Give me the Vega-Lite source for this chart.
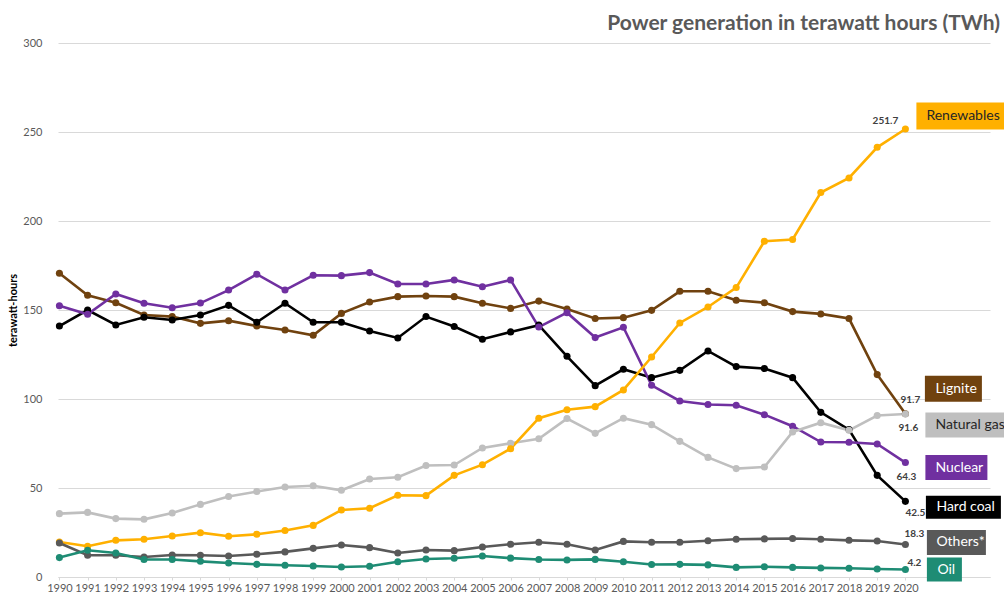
{
  "$schema": "https://vega.github.io/schema/vega-lite/v6.json",
  "width": 932,
  "height": 534,
  "autosize": "none",
  "padding": {"left": 58, "top": 43, "right": 14, "bottom": 15},
  "background": "#ffffff",
  "title": {
    "text": "Power generation in terawatt hours (TWh)",
    "anchor": "end",
    "frame": "group",
    "dx": 10,
    "offset": -14,
    "baseline": "alphabetic",
    "font": "Lato",
    "fontSize": 21,
    "fontWeight": "bold",
    "color": "#595959"
  },
  "config": {
    "view": {"stroke": null},
    "text": {"font": "Lato"}
  },
  "data": {
    "values": [
      {"year": 1990, "Lignite": 170.6, "Hard coal": 141.0, "Nuclear": 152.4, "Natural gas": 35.6, "Renewables": 19.7, "Others*": 19.1, "Oil": 10.9},
      {"year": 1991, "Lignite": 158.3, "Hard coal": 150.0, "Nuclear": 147.6, "Natural gas": 36.3, "Renewables": 17.3, "Others*": 12.2, "Oil": 15.0},
      {"year": 1992, "Lignite": 154.1, "Hard coal": 141.6, "Nuclear": 159.0, "Natural gas": 32.8, "Renewables": 20.6, "Others*": 12.2, "Oil": 13.5},
      {"year": 1993, "Lignite": 147.2, "Hard coal": 145.9, "Nuclear": 153.8, "Natural gas": 32.4, "Renewables": 21.2, "Others*": 11.2, "Oil": 9.8},
      {"year": 1994, "Lignite": 146.3, "Hard coal": 144.4, "Nuclear": 151.3, "Natural gas": 36.0, "Renewables": 23.0, "Others*": 12.4, "Oil": 9.8},
      {"year": 1995, "Lignite": 142.5, "Hard coal": 147.2, "Nuclear": 153.9, "Natural gas": 40.8, "Renewables": 24.9, "Others*": 12.2, "Oil": 8.8},
      {"year": 1996, "Lignite": 144.0, "Hard coal": 152.6, "Nuclear": 161.2, "Natural gas": 45.2, "Renewables": 22.9, "Others*": 11.8, "Oil": 7.9},
      {"year": 1997, "Lignite": 141.0, "Hard coal": 143.1, "Nuclear": 170.1, "Natural gas": 48.0, "Renewables": 24.0, "Others*": 12.8, "Oil": 7.1},
      {"year": 1998, "Lignite": 138.8, "Hard coal": 153.8, "Nuclear": 161.2, "Natural gas": 50.6, "Renewables": 26.1, "Others*": 14.1, "Oil": 6.6},
      {"year": 1999, "Lignite": 135.8, "Hard coal": 143.1, "Nuclear": 169.5, "Natural gas": 51.3, "Renewables": 29.0, "Others*": 16.1, "Oil": 6.2},
      {"year": 2000, "Lignite": 148.1, "Hard coal": 143.1, "Nuclear": 169.3, "Natural gas": 48.7, "Renewables": 37.6, "Others*": 18.0, "Oil": 5.6},
      {"year": 2001, "Lignite": 154.5, "Hard coal": 138.2, "Nuclear": 171.0, "Natural gas": 55.1, "Renewables": 38.6, "Others*": 16.5, "Oil": 6.0},
      {"year": 2002, "Lignite": 157.5, "Hard coal": 134.3, "Nuclear": 164.6, "Natural gas": 56.0, "Renewables": 45.9, "Others*": 13.5, "Oil": 8.6},
      {"year": 2003, "Lignite": 157.9, "Hard coal": 146.3, "Nuclear": 164.6, "Natural gas": 62.6, "Renewables": 45.7, "Others*": 15.2, "Oil": 10.1},
      {"year": 2004, "Lignite": 157.5, "Hard coal": 140.7, "Nuclear": 166.9, "Natural gas": 62.9, "Renewables": 57.1, "Others*": 14.8, "Oil": 10.5},
      {"year": 2005, "Lignite": 153.8, "Hard coal": 133.6, "Nuclear": 163.1, "Natural gas": 72.5, "Renewables": 63.1, "Others*": 16.9, "Oil": 11.8},
      {"year": 2006, "Lignite": 150.9, "Hard coal": 137.7, "Nuclear": 166.9, "Natural gas": 75.1, "Renewables": 72.1, "Others*": 18.4, "Oil": 10.6},
      {"year": 2007, "Lignite": 155.0, "Hard coal": 141.5, "Nuclear": 140.4, "Natural gas": 77.7, "Renewables": 89.2, "Others*": 19.5, "Oil": 9.8},
      {"year": 2008, "Lignite": 150.6, "Hard coal": 124.0, "Nuclear": 148.5, "Natural gas": 89.0, "Renewables": 94.0, "Others*": 18.4, "Oil": 9.6},
      {"year": 2009, "Lignite": 145.2, "Hard coal": 107.5, "Nuclear": 134.5, "Natural gas": 80.7, "Renewables": 95.7, "Others*": 15.2, "Oil": 9.9},
      {"year": 2010, "Lignite": 145.7, "Hard coal": 116.7, "Nuclear": 140.3, "Natural gas": 89.2, "Renewables": 105.1, "Others*": 20.0, "Oil": 8.6},
      {"year": 2011, "Lignite": 149.8, "Hard coal": 112.0, "Nuclear": 107.7, "Natural gas": 85.6, "Renewables": 123.6, "Others*": 19.5, "Oil": 7.0},
      {"year": 2012, "Lignite": 160.5, "Hard coal": 116.1, "Nuclear": 98.9, "Natural gas": 76.2, "Renewables": 142.7, "Others*": 19.5, "Oil": 7.1},
      {"year": 2013, "Lignite": 160.5, "Hard coal": 127.0, "Nuclear": 96.9, "Natural gas": 67.2, "Renewables": 151.7, "Others*": 20.4, "Oil": 6.8},
      {"year": 2014, "Lignite": 155.5, "Hard coal": 118.2, "Nuclear": 96.5, "Natural gas": 60.9, "Renewables": 162.6, "Others*": 21.2, "Oil": 5.4},
      {"year": 2015, "Lignite": 154.1, "Hard coal": 117.1, "Nuclear": 91.2, "Natural gas": 61.8, "Renewables": 188.6, "Others*": 21.4, "Oil": 5.8},
      {"year": 2016, "Lignite": 149.1, "Hard coal": 112.0, "Nuclear": 84.7, "Natural gas": 81.5, "Renewables": 189.6, "Others*": 21.6, "Oil": 5.4},
      {"year": 2017, "Lignite": 147.8, "Hard coal": 92.5, "Nuclear": 75.8, "Natural gas": 86.7, "Renewables": 216.0, "Others*": 21.2, "Oil": 5.1},
      {"year": 2018, "Lignite": 145.2, "Hard coal": 82.8, "Nuclear": 75.7, "Natural gas": 82.4, "Renewables": 224.2, "Others*": 20.6, "Oil": 4.9},
      {"year": 2019, "Lignite": 113.7, "Hard coal": 57.1, "Nuclear": 74.7, "Natural gas": 90.7, "Renewables": 241.4, "Others*": 20.2, "Oil": 4.5},
      {"year": 2020, "Lignite": 91.7, "Hard coal": 42.5, "Nuclear": 64.3, "Natural gas": 91.6, "Renewables": 251.7, "Others*": 18.3, "Oil": 4.2}
    ]
  },
  "transform": [
    {"fold": ["Lignite", "Hard coal", "Nuclear", "Natural gas", "Renewables", "Others*", "Oil"], "as": ["source", "twh"]}
  ],
  "encoding": {
    "x": {
      "field": "year", "type": "quantitative",
      "scale": {"domain": [1989.95, 2023], "nice": false, "zero": false},
      "axis": {
        "values": [1990, 1991, 1992, 1993, 1994, 1995, 1996, 1997, 1998, 1999, 2000, 2001, 2002, 2003, 2004, 2005, 2006, 2007, 2008, 2009, 2010, 2011, 2012, 2013, 2014, 2015, 2016, 2017, 2018, 2019, 2020],
        "format": "d", "title": null, "grid": false,
        "labelFont": "Lato", "labelFontSize": 11, "labelColor": "#595959",
        "labelOverlap": false, "labelFlush": false, "labelPadding": 2,
        "domainColor": "#D9D9D9", "tickColor": "#D9D9D9", "tickSize": 3
      }
    },
    "y": {
      "field": "twh", "type": "quantitative",
      "scale": {"domain": [0, 300], "nice": false},
      "axis": {
        "values": [0, 50, 100, 150, 200, 250, 300],
        "title": "terawatt-hours", "titleFont": "Lato", "titleFontSize": 11, "titleFontWeight": "bold", "titleColor": "#000000", "titlePadding": 4,
        "grid": true, "gridColor": "#D9D9D9", "domain": false, "ticks": false,
        "labelFont": "Lato", "labelFontSize": 11, "labelColor": "#595959", "labelPadding": 16
      }
    }
  },
  "layer": [
    {
      "mark": {"type": "line", "strokeWidth": 2.6, "point": {"filled": true, "size": 50, "opacity": 1}},
      "encoding": {
        "color": {
          "field": "source", "type": "nominal", "legend": null,
          "scale": {
            "domain": ["Lignite", "Hard coal", "Nuclear", "Natural gas", "Renewables", "Others*", "Oil"],
            "range": ["#70420F", "#000000", "#7030A0", "#BFBFBF", "#FFB000", "#595959", "#1E8C74"]
          }
        }
      }
    },
    {
      "transform": [{"filter": "datum.year === 2020 && datum.source === 'Renewables'"}],
      "mark": {"type": "rect", "width": 96, "height": 27, "xOffset": 59, "yOffset": -13, "color": "#FFB000"}
    },
    {
      "transform": [{"filter": "datum.year === 2020 && datum.source === 'Lignite'"}],
      "mark": {"type": "rect", "width": 57, "height": 26, "xOffset": 48, "yOffset": -25, "color": "#70420F"}
    },
    {
      "transform": [{"filter": "datum.year === 2020 && datum.source === 'Natural gas'"}],
      "mark": {"type": "rect", "width": 88, "height": 25, "xOffset": 64, "yOffset": 11, "color": "#BFBFBF"}
    },
    {
      "transform": [{"filter": "datum.year === 2020 && datum.source === 'Nuclear'"}],
      "mark": {"type": "rect", "width": 62, "height": 25, "xOffset": 51, "yOffset": 5, "color": "#7030A0"}
    },
    {
      "transform": [{"filter": "datum.year === 2020 && datum.source === 'Hard coal'"}],
      "mark": {"type": "rect", "width": 75, "height": 23, "xOffset": 58, "yOffset": 6, "color": "#000000"}
    },
    {
      "transform": [{"filter": "datum.year === 2020 && datum.source === 'Others*'"}],
      "mark": {"type": "rect", "width": 59, "height": 25, "xOffset": 51, "yOffset": -2, "color": "#595959"}
    },
    {
      "transform": [{"filter": "datum.year === 2020 && datum.source === 'Oil'"}],
      "mark": {"type": "rect", "width": 35, "height": 24, "xOffset": 39, "yOffset": 0, "color": "#1E8C74"}
    },
    {
      "transform": [{"filter": "datum.year === 2020 && datum.source === 'Renewables'"}],
      "mark": {"type": "text", "align": "left", "baseline": "middle", "xOffset": 21, "yOffset": -13, "fontSize": 14, "color": "#262626"},
      "encoding": {"text": {"field": "source"}}
    },
    {
      "transform": [{"filter": "datum.year === 2020 && datum.source === 'Lignite'"}],
      "mark": {"type": "text", "align": "left", "baseline": "middle", "xOffset": 30, "yOffset": -25, "fontSize": 14, "color": "#ffffff"},
      "encoding": {"text": {"field": "source"}}
    },
    {
      "transform": [{"filter": "datum.year === 2020 && datum.source === 'Natural gas'"}],
      "mark": {"type": "text", "align": "left", "baseline": "middle", "xOffset": 30, "yOffset": 11, "fontSize": 14, "color": "#262626"},
      "encoding": {"text": {"field": "source"}}
    },
    {
      "transform": [{"filter": "datum.year === 2020 && datum.source === 'Nuclear'"}],
      "mark": {"type": "text", "align": "left", "baseline": "middle", "xOffset": 30, "yOffset": 5, "fontSize": 14, "color": "#ffffff"},
      "encoding": {"text": {"field": "source"}}
    },
    {
      "transform": [{"filter": "datum.year === 2020 && datum.source === 'Hard coal'"}],
      "mark": {"type": "text", "align": "left", "baseline": "middle", "xOffset": 31, "yOffset": 6, "fontSize": 14, "color": "#ffffff"},
      "encoding": {"text": {"field": "source"}}
    },
    {
      "transform": [{"filter": "datum.year === 2020 && datum.source === 'Others*'"}],
      "mark": {"type": "text", "align": "left", "baseline": "middle", "xOffset": 31, "yOffset": -2, "fontSize": 14, "color": "#ffffff"},
      "encoding": {"text": {"field": "source"}}
    },
    {
      "transform": [{"filter": "datum.year === 2020 && datum.source === 'Oil'"}],
      "mark": {"type": "text", "align": "left", "baseline": "middle", "xOffset": 32, "yOffset": 0, "fontSize": 14, "color": "#ffffff"},
      "encoding": {"text": {"field": "source"}}
    },
    {
      "transform": [{"filter": "datum.year === 2020 && datum.source === 'Renewables'"}],
      "mark": {"type": "text", "align": "center", "baseline": "middle", "dx": -20, "dy": -8, "fontSize": 10, "fontWeight": "bold", "color": "#404040"},
      "encoding": {"text": {"field": "twh", "format": ".1f"}}
    },
    {
      "transform": [{"filter": "datum.year === 2020 && datum.source === 'Lignite'"}],
      "mark": {"type": "text", "align": "center", "baseline": "middle", "dx": 5, "dy": -14, "fontSize": 10, "fontWeight": "bold", "color": "#404040"},
      "encoding": {"text": {"field": "twh", "format": ".1f"}}
    },
    {
      "transform": [{"filter": "datum.year === 2020 && datum.source === 'Natural gas'"}],
      "mark": {"type": "text", "align": "center", "baseline": "middle", "dx": 3, "dy": 14, "fontSize": 10, "fontWeight": "bold", "color": "#404040"},
      "encoding": {"text": {"field": "twh", "format": ".1f"}}
    },
    {
      "transform": [{"filter": "datum.year === 2020 && datum.source === 'Nuclear'"}],
      "mark": {"type": "text", "align": "center", "baseline": "middle", "dx": 1, "dy": 14, "fontSize": 10, "fontWeight": "bold", "color": "#404040"},
      "encoding": {"text": {"field": "twh", "format": ".1f"}}
    },
    {
      "transform": [{"filter": "datum.year === 2020 && datum.source === 'Hard coal'"}],
      "mark": {"type": "text", "align": "center", "baseline": "middle", "dx": 10, "dy": 12, "fontSize": 10, "fontWeight": "bold", "color": "#404040"},
      "encoding": {"text": {"field": "twh", "format": ".1f"}}
    },
    {
      "transform": [{"filter": "datum.year === 2020 && datum.source === 'Others*'"}],
      "mark": {"type": "text", "align": "center", "baseline": "middle", "dx": 9, "dy": -10, "fontSize": 10, "fontWeight": "bold", "color": "#404040"},
      "encoding": {"text": {"field": "twh", "format": ".1f"}}
    },
    {
      "transform": [{"filter": "datum.year === 2020 && datum.source === 'Oil'"}],
      "mark": {"type": "text", "align": "center", "baseline": "middle", "dx": 9, "dy": -7, "fontSize": 10, "fontWeight": "bold", "color": "#404040"},
      "encoding": {"text": {"field": "twh", "format": ".1f"}}
    }
  ]
}
